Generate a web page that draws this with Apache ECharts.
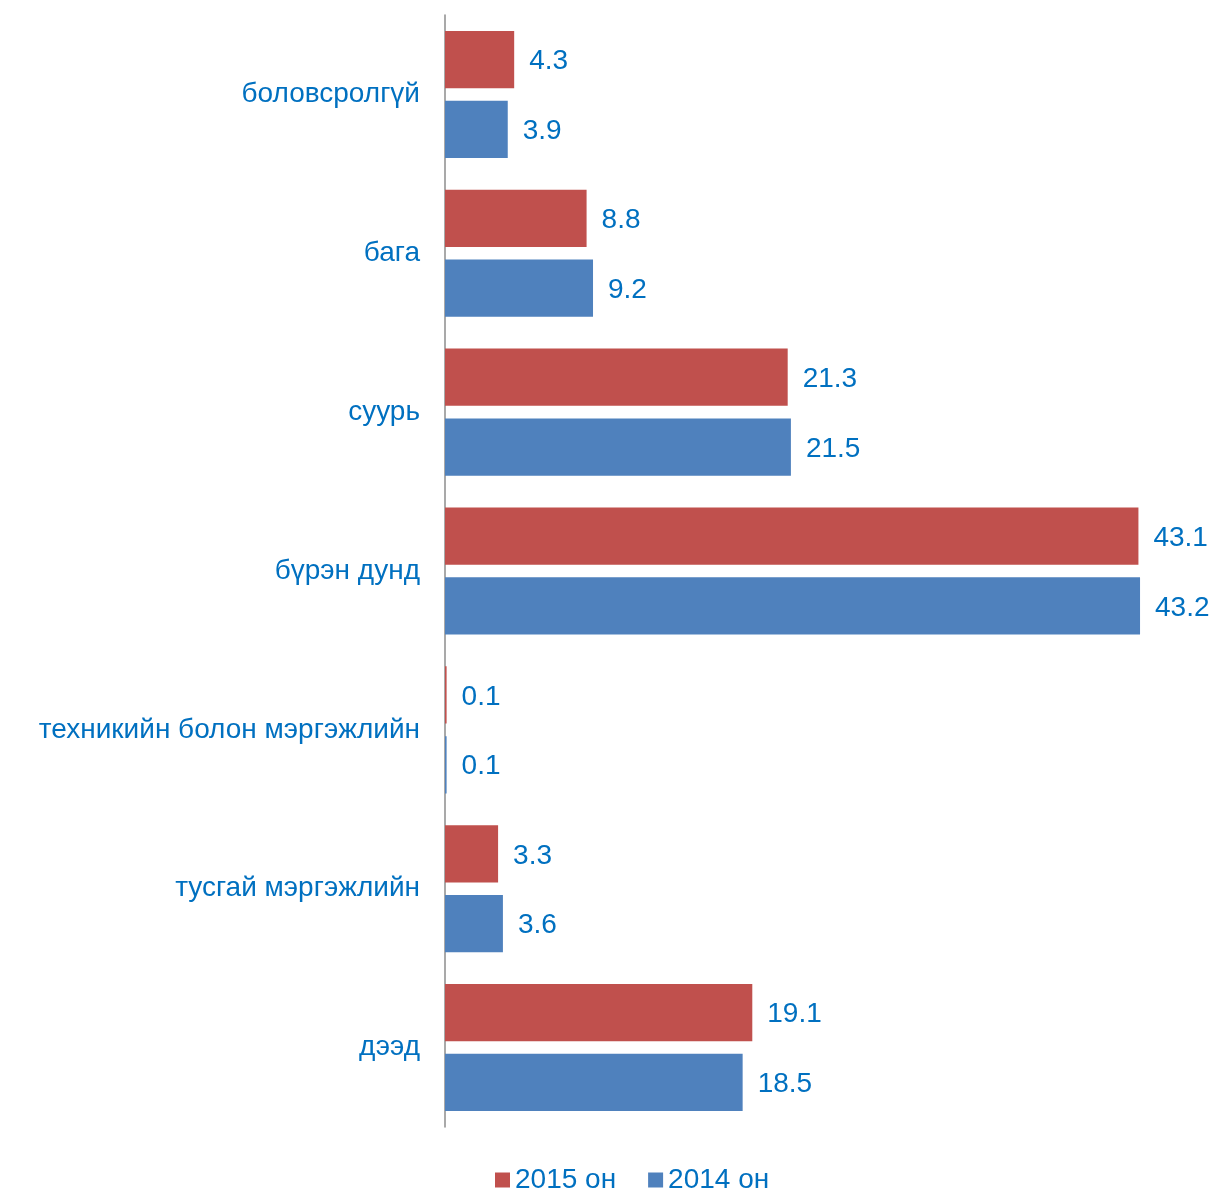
<!DOCTYPE html>
<html><head><meta charset="utf-8">
<script src="https://cdn.jsdelivr.net/npm/echarts@6/dist/echarts.min.js"></script>
<style>html,body{margin:0;padding:0;background:#fff}#c{width:1218px;height:1191px}</style>
</head><body><div id="c"></div>
<script>
const categories = ["боловсролгүй","бага","суурь","бүрэн дунд","техникийн болон мэргэжлийн","тусгай мэргэжлийн","дээд"];
const seriesNames = ["2015 он","2014 он"];
const values2015 = [4.3, 8.8, 21.3, 43.1, 0.1, 3.3, 19.1];
const values2014 = [3.9, 9.2, 21.5, 43.2, 0.1, 3.6, 18.5];

const textColor = "#0070C0";
const font = "'Liberation Sans', Arial, sans-serif";
const chart = echarts.init(document.getElementById('c'), null, {renderer:'canvas'});
const labelCfg = {show:true, position:'right', distance:15, offset:[0,2], color:textColor, fontSize:28, fontFamily:font,
  formatter: p => p.value.toFixed(1)};
chart.setOption({
  animation:false,
  backgroundColor:'#fff',
  grid:{left:445, right:49, top:15, bottom:64, containLabel:false},
  legend:{data:seriesNames, top:1161, left:490, icon:'rect', itemWidth:15, itemHeight:15, itemGap:32,
    textStyle:{color:textColor, fontSize:28, fontFamily:font}},
  xAxis:{type:'value', min:0, max:45, show:false},
  yAxis:{type:'category', data:categories, inverse:true,
    axisLine:{show:true, lineStyle:{color:'#8c8c8c', width:1.5}},
    axisTick:{show:false},
    axisLabel:{color:textColor, fontSize:28, fontFamily:font, margin:25, padding:[5,0,0,0]}},
  series:[
    {name:seriesNames[0], type:'bar', data:values2015, itemStyle:{color:'#C0504D'}, barGap:'22%', barCategoryGap:'20%', label:labelCfg},
    {name:seriesNames[1], type:'bar', data:values2014, itemStyle:{color:'#4F81BD'}, barGap:'22%', barCategoryGap:'20%', label:labelCfg}
  ]
});
</script></body></html>
